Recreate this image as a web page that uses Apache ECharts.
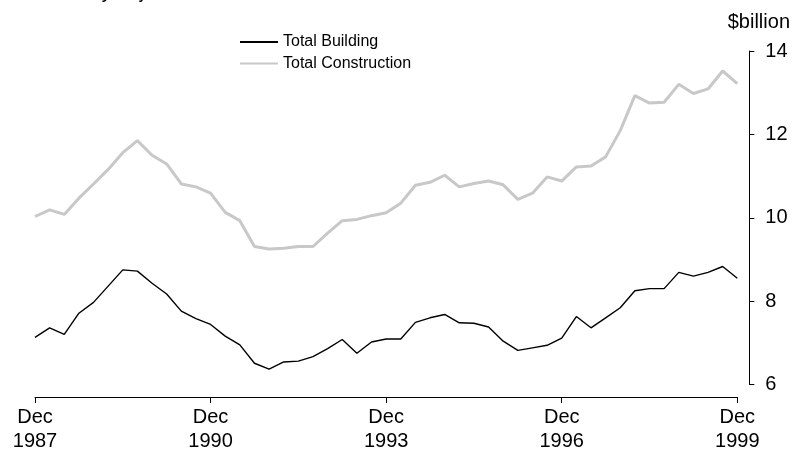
<!DOCTYPE html>
<html>
<head>
<meta charset="utf-8">
<script src="https://cdn.jsdelivr.net/npm/echarts@6/dist/echarts.min.js"></script>
<style>
  html, body { margin: 0; padding: 0; background: #fff; }
  #chart { width: 792px; height: 450px; }
</style>
</head>
<body>
<div id="chart"></div>
<script>
// Quarterly value of work done, $billion, Dec 1987 – Dec 1999
const quarterMonths = ['Dec', 'Mar', 'Jun', 'Sep'];
const quarters = [];
for (let i = 0; i < 49; i++) {
  const m = quarterMonths[i % 4];
  const y = 1987 + Math.ceil(i / 4);
  quarters.push(m + ' ' + y);
}

const totalBuilding = [
  7.13, 7.36, 7.20, 7.71, 7.97, 8.36, 8.75, 8.72, 8.43, 8.17,
  7.76, 7.58, 7.44, 7.16, 6.95, 6.51, 6.37, 6.54, 6.56, 6.67,
  6.86, 7.08, 6.75, 7.02, 7.09, 7.09, 7.49, 7.60, 7.68, 7.48,
  7.47, 7.38, 7.04, 6.82, 6.88, 6.94, 7.11, 7.63, 7.36, 7.60,
  7.84, 8.25, 8.30, 8.30, 8.69, 8.60, 8.69, 8.83, 8.55
];

const totalConstruction = [
  10.03, 10.19, 10.08, 10.47, 10.81, 11.16, 11.56, 11.85, 11.50, 11.29,
  10.81, 10.74, 10.59, 10.13, 9.93, 9.31, 9.25, 9.27, 9.31, 9.31,
  9.63, 9.93, 9.96, 10.05, 10.12, 10.35, 10.78, 10.85, 11.02, 10.74,
  10.82, 10.88, 10.79, 10.44, 10.59, 10.98, 10.88, 11.22, 11.24, 11.46,
  12.09, 12.93, 12.75, 12.77, 13.20, 12.98, 13.09, 13.52, 13.22
];

const yTicks = { min: 6, max: 14, step: 2 };
const FONT = '"Liberation Sans", Arial, sans-serif';

const chart = echarts.init(document.getElementById('chart'), null, { renderer: 'canvas' });

const everyThreeYears = (idx) => idx % 12 === 0;

chart.setOption({
  animation: false,
  backgroundColor: '#ffffff',
  textStyle: { fontFamily: FONT, color: '#000' },
  grid: {
    left: 35, right: 54.7, top: 51, bottom: 65.5,
    containLabel: false,
    outerBoundsMode: 'none'
  },
  legend: {
    orient: 'vertical',
    left: 239,
    top: 34,
    padding: 0,
    itemWidth: 38,
    itemHeight: 14,
    itemGap: 5.4,
    // plain line keys, no marker dot
    itemStyle: { color: 'rgba(0,0,0,0)', borderColor: 'rgba(0,0,0,0)', borderWidth: 0 },
    textStyle: { fontFamily: FONT, fontSize: 16, color: '#000' },
    data: ['Total Building', 'Total Construction']
  },
  graphic: [
    {
      type: 'text',
      left: 14,
      top: -18,
      style: { text: 'Seasonally adjusted', font: '20px ' + FONT, fill: '#000' }
    },
    {
      type: 'text',
      right: 2,
      top: 12,
      style: { text: '$billion', font: '20px ' + FONT, fill: '#000' }
    }
  ],
  xAxis: {
    type: 'category',
    data: quarters,
    boundaryGap: false,
    position: 'bottom',
    offset: 12.5,
    axisLine: { show: true, lineStyle: { color: '#000', width: 1 } },
    axisTick: { show: true, length: 6, interval: (idx) => everyThreeYears(idx), lineStyle: { color: '#000' } },
    axisLabel: {
      interval: (idx) => everyThreeYears(idx),
      formatter: (v) => v.replace(' ', '\n'),
      fontFamily: FONT,
      fontSize: 20,
      lineHeight: 24,
      color: '#000',
      margin: 8
    },
    splitLine: { show: false }
  },
  yAxis: {
    type: 'value',
    position: 'right',
    min: yTicks.min,
    max: yTicks.max,
    interval: yTicks.step,
    offset: 12,
    axisLine: { show: true, lineStyle: { color: '#000', width: 1 } },
    axisTick: { show: true, length: 5, lineStyle: { color: '#000' } },
    axisLabel: { fontFamily: FONT, fontSize: 20, color: '#000', margin: 16 },
    splitLine: { show: false }
  },
  series: [
    {
      name: 'Total Building',
      type: 'line',
      data: totalBuilding,
      symbol: 'none',
      lineStyle: { color: '#000', width: 1.4 },
      itemStyle: { color: '#000' },
      z: 3
    },
    {
      name: 'Total Construction',
      type: 'line',
      data: totalConstruction,
      symbol: 'none',
      lineStyle: { color: '#c8c8c8', width: 3 },
      itemStyle: { color: '#c8c8c8' },
      z: 2
    }
  ]
});
</script>
</body>
</html>
